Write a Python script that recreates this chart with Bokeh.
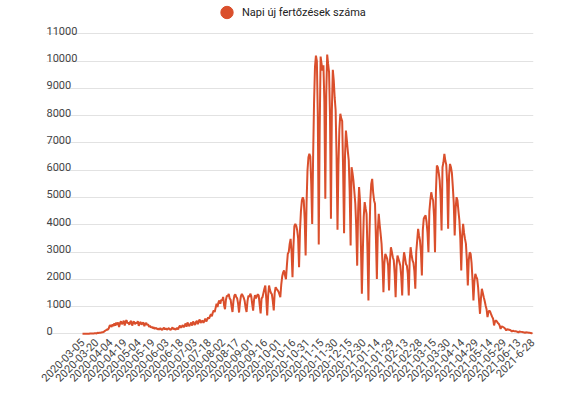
import math
from bokeh.plotting import figure
from bokeh.models import FixedTicker, Range1d, Legend, LegendItem, ColumnDataSource
from bokeh.embed import file_html
from bokeh.resources import INLINE
from bokeh.core.properties import value

series_name = "Napi új fertőzések száma"

x_labels = [
    "2020-03-05", "2020-03-20", "2020-04-04", "2020-04-19", "2020-05-04",
    "2020-05-19", "2020-06-03", "2020-06-18", "2020-07-03", "2020-07-18",
    "2020-08-02", "2020-08-17", "2020-09-01", "2020-09-16", "2020-10-01",
    "2020-10-16", "2020-10-31", "2020-11-15", "2020-11-30", "2020-12-15",
    "2020-12-30", "2021-01-14", "2021-01-29", "2021-02-13", "2021-02-28",
    "2021-03-15", "2021-03-30", "2021-04-14", "2021-04-29", "2021-05-14",
    "2021-05-29", "2021-06-13", "2021-6-28",
]
label_step = 15

y_ticks = [0, 1000, 2000, 3000, 4000, 5000, 6000, 7000, 8000, 9000, 10000, 11000]
y_tick_labels = [str(v) for v in y_ticks]

cases_spring = [0, 0, 2, 1, 3, 3, 6, 2, 7, 9, 7, 11, 11, 17, 19, 14, 36, 27, 35, 40,
                44, 57, 60, 78, 110, 130, 160, 150, 200, 300,
                300, 250, 350, 280, 380, 300, 410,
                330, 420, 250, 380, 460, 350, 400,
                480, 300, 450, 500, 380, 420, 330,
                440, 470, 300, 410, 450, 350, 420,
                380, 460, 290, 400, 430, 330, 390,
                410, 280, 360, 400, 320, 350, 250,
                300, 230, 260, 200, 240, 180, 220]
cases_summer = [200, 160, 190, 150, 210, 170, 140,
                190, 220, 160, 200, 150, 180, 210,
                170, 140, 190, 230, 160, 200, 150,
                180, 220, 160, 250, 300, 220, 270,
                320, 240, 300, 380, 260, 420, 330,
                280, 360, 410, 300, 450, 380, 320,
                430, 480, 350, 470, 520, 400, 460,
                480, 400, 470, 560, 450, 520, 600,
                560, 650, 720, 640, 780, 860, 800,
                950, 1100, 980, 1150, 1220, 1100, 1250,
                1220, 1350, 1050, 900, 1250, 1400, 1380,
                1460, 1300, 1250, 1000, 800, 1200, 1400,
                1450, 1350, 1300, 1100, 780, 1150, 1380,
                1460, 1400, 1320, 1200, 950, 800, 1200,
                1400, 1350, 1470, 1380, 1100, 850, 1250,
                1420, 1300, 1380, 1450, 1400, 1050, 750]
cases_autumn = [1300, 1340, 1500, 1650, 1770, 1300, 670,
                1400, 1770, 1600, 1500, 1450, 1200, 855,
                1500, 1710, 1650, 1600, 1550, 1450, 1340,
                1800, 2100, 2250, 2320, 2150, 2000, 2500,
                2940, 3000, 3300, 3480, 3000, 2075, 3200,
                3950, 4030, 3960, 3800, 3500, 2440, 3800,
                4500, 4890, 5010, 4900, 4200, 2870, 4800,
                6000, 6475, 6600, 6500, 5500, 4030, 6500,
                8500, 9800, 10200, 10000, 8000, 3275, 7500,
                10170, 9900, 9650, 9850, 8500, 4950, 8800,
                10240, 9900, 9590, 8000, 4217, 8200, 9680,
                9300, 8660, 8200, 6500, 3813, 6200, 7500,
                8070, 7900, 7800, 6000, 3690, 6500, 7455,
                7090, 6700, 6360, 5200, 3240, 6110, 5900,
                5620, 5200, 4770, 3900, 2500, 4500, 5380,
                4890, 3200, 1470, 3000, 4300, 4830, 4600]
cases_winter = [4400, 3000, 1220, 3500, 4900, 5500, 5680,
                5200, 4890, 4770, 3500, 2015, 3800, 4400,
                4000, 3670, 3300, 2600, 1525, 2600, 2930,
                2850, 2750, 2500, 1590, 2700, 3175, 3000,
                2810, 2700, 2200, 1340, 2500, 2870, 2750,
                2630, 2500, 2100, 1405, 2600, 2990, 2800,
                2560, 2500, 2200, 1405, 2700, 3175, 2900,
                2690, 2600, 2300, 1650, 3000, 3420, 3850,
                3600, 3420, 3000, 2140, 3800, 4220, 4300,
                4340, 4100, 3700, 2990, 4500, 4890, 5190,
                5000, 4890, 4300, 2990, 5200, 6170, 6110,
                5900, 5620, 5000, 3790, 6110, 6290, 6600,
                6355, 6200, 5500, 3850, 5800, 6230, 6110]
cases_2021_spring = [5900, 5400, 4800, 3605, 4600, 5010, 4890,
                     4500, 4160, 3500, 2320, 3600, 4030, 3700,
                     3480, 3300, 2700, 1770, 2700, 2990, 2935,
                     2600, 2000, 1220, 1900, 2200, 2100, 2015,
                     1700, 1200, 733, 1300, 1650, 1500, 1340,
                     1200, 1040, 900, 610, 800, 855, 800,
                     700, 620, 550, 305, 450, 490, 450,
                     400, 370, 300, 180, 270, 260, 240,
                     220, 180, 120, 170, 160, 150, 140,
                     120, 80, 110, 100, 95, 90, 85,
                     70, 50, 80, 75, 70, 65, 60,
                     50, 35, 55, 50, 45, 40, 35,
                     30, 20, 25]

cases = cases_spring + cases_summer + cases_autumn + cases_winter + cases_2021_spring
days = list(range(len(cases)))

LINE = "#da4f2c"
GRID = "#e2e2e2"
TEXT = "#444444"

p = figure(width=575, height=402, output_backend="svg", toolbar_location=None,
           x_range=Range1d(-38.4, 481.07), y_range=Range1d(-136, 12225),
           min_border_left=46, min_border_right=42, min_border_top=0,
           min_border_bottom=65)
p.outline_line_color = None
p.background_fill_color = "white"
p.border_fill_color = "white"
p.xgrid.visible = False
p.yaxis.visible = False
p.ygrid.ticker = FixedTicker(ticks=y_ticks)
p.ygrid.grid_line_color = GRID
p.ygrid.grid_line_width = 1

p.xaxis.ticker = FixedTicker(ticks=[i * label_step for i in range(len(x_labels))])
p.xaxis.major_label_overrides = {i * label_step: lab for i, lab in enumerate(x_labels)}
p.xaxis.major_label_orientation = math.pi / 4
p.xaxis.axis_line_color = None
p.xaxis.major_tick_line_color = None
p.xaxis.minor_tick_line_color = None
p.xaxis.major_tick_out = 0
p.xaxis.major_tick_in = 0
p.xaxis.major_label_standoff = 3
p.xaxis.major_label_text_font = "Roboto"
p.xaxis.major_label_text_font_size = "11px"
p.xaxis.major_label_text_color = TEXT

ysrc = ColumnDataSource(dict(x=[p.x_range.start] * len(y_ticks), y=y_ticks, t=y_tick_labels))
p.text(x="x", y="y", text="t", source=ysrc, text_font=value("Roboto"),
       text_font_size=value("11px"), text_color=TEXT, text_align="left",
       text_baseline="alphabetic", y_offset=-3)

p.line(days, cases, line_color=LINE, line_width=2)

marker = p.scatter(days[:1], cases[:1], marker="circle", size=0,
                   fill_color=LINE, line_color=LINE)
legend = Legend(items=[LegendItem(label=series_name, renderers=[marker])],
                location=(165, 309), orientation="horizontal",
                glyph_width=31, glyph_height=32, label_height=32,
                label_standoff=0, padding=0, margin=0, spacing=0,
                border_line_color=None, background_fill_alpha=0,
                label_text_font="Roboto", label_text_font_size="11px",
                label_text_color="#222222")
p.add_layout(legend)

open("out.html", "w").write(file_html(p, INLINE))
